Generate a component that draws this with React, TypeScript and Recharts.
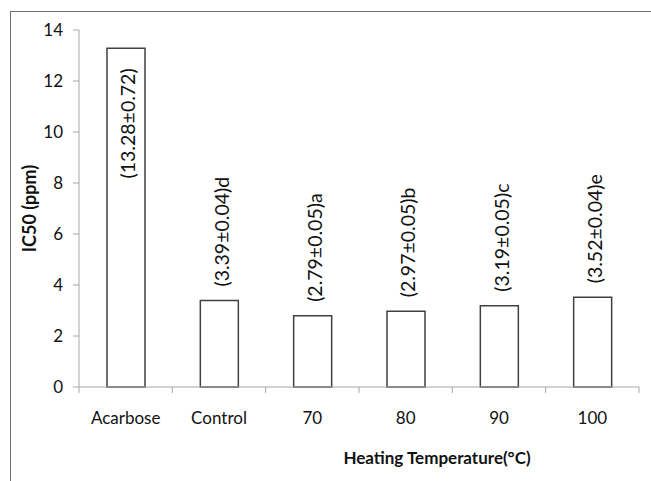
import { BarChart, Bar, XAxis, YAxis, LabelList } from 'recharts';

const categories = ['Acarbose', 'Control', '70', '80', '90', '100'];
const ic50 = [13.28, 3.39, 2.79, 2.97, 3.19, 3.52];
const sd = ['0.72', '0.04', '0.05', '0.05', '0.05', '0.04'];
const letters = ['', 'd', 'a', 'b', 'c', 'e'];
const yTicks = [0, 2, 4, 6, 8, 10, 12, 14];

const W = 651;
const H = 481;
const M = { top: 30, right: 12, left: 0, bottom: 0 };
const Y_AXIS_W = 79;
const BAND = (W - M.right - Y_AXIS_W) / categories.length;
const FONT = 'Lato, "Open Sans", sans-serif';
const INK = '#111';

const data = categories.map((name, i) => ({
  name,
  ic50: ic50[i],
  label: `(${ic50[i].toFixed(2)}±${sd[i]})${letters[i]}`,
}));

function CategoryTick({ x, y, payload, index }: any) {
  const last = index === categories.length - 1;
  return (
    <g>
      <line x1={x - BAND / 2} x2={x - BAND / 2} y1={y} y2={y + 6} stroke="#a6a6a6" />
      {last && <line x1={x + BAND / 2} x2={x + BAND / 2} y1={y} y2={y + 6} stroke="#a6a6a6" />}
      <text x={x} y={y + 30} textAnchor="middle" dominantBaseline="central" fontSize={17} fill={INK} fontFamily={FONT}>
        {payload.value}
      </text>
    </g>
  );
}

function ValueLabel({ x, y, width, index }: any) {
  const cx = Number(x) + Number(width) / 2 + 2;
  const top = Number(y);
  // the tall bar gets its label inside, the short ones above
  const inside = ic50[index] > 10;
  const ty = inside ? top + 20 : top - 14;
  return (
    <text
      x={cx}
      y={ty}
      transform={`rotate(-90, ${cx}, ${ty})`}
      textAnchor={inside ? 'end' : 'start'}
      dominantBaseline="central"
      fontSize={19.5}
      fill={INK}
      fontFamily={FONT}
    >
      {data[index].label}
    </text>
  );
}

export default function App() {
  return (
    <div style={{ position: 'absolute', left: 0, top: 0, width: W, height: H, background: '#fff' }}>
      <div style={{ position: 'absolute', left: 10, top: 11, width: W - 10, height: H - 11, borderTop: '1.5px solid #707070', borderLeft: '1.5px solid #707070' }} />
      <BarChart width={W} height={H} data={data} margin={M} barSize={38} style={{ position: 'absolute', left: 0, top: 0 }}>
        <XAxis
          dataKey="name"
          height={94}
          stroke="#a6a6a6"
          tickLine={false}
          tickSize={0}
          tickMargin={0}
          interval={0}
          tick={<CategoryTick />}
          label={{
            value: 'Heating Temperature(°C)',
            position: 'center',
            dx: 78,
            dy: 24,
            style: { fontSize: 17, fontWeight: 'bold', fill: INK, fontFamily: FONT },
          }}
        />
        <YAxis
          width={Y_AXIS_W}
          domain={[0, 14]}
          ticks={yTicks}
          stroke="#a6a6a6"
          tickSize={6}
          tickMargin={10}
          tick={{ fontSize: 17, fill: INK, fontFamily: FONT }}
          label={{
            value: 'IC50 (ppm)',
            angle: -90,
            position: 'center',
            dx: -10,
            style: { fontSize: 18, fontWeight: 'bold', fill: INK, fontFamily: FONT },
          }}
        />
        <Bar dataKey="ic50" fill="#fff" stroke="#404040" strokeWidth={1.5} isAnimationActive={false}>
          <LabelList dataKey="label" content={<ValueLabel />} />
        </Bar>
      </BarChart>
    </div>
  );
}
